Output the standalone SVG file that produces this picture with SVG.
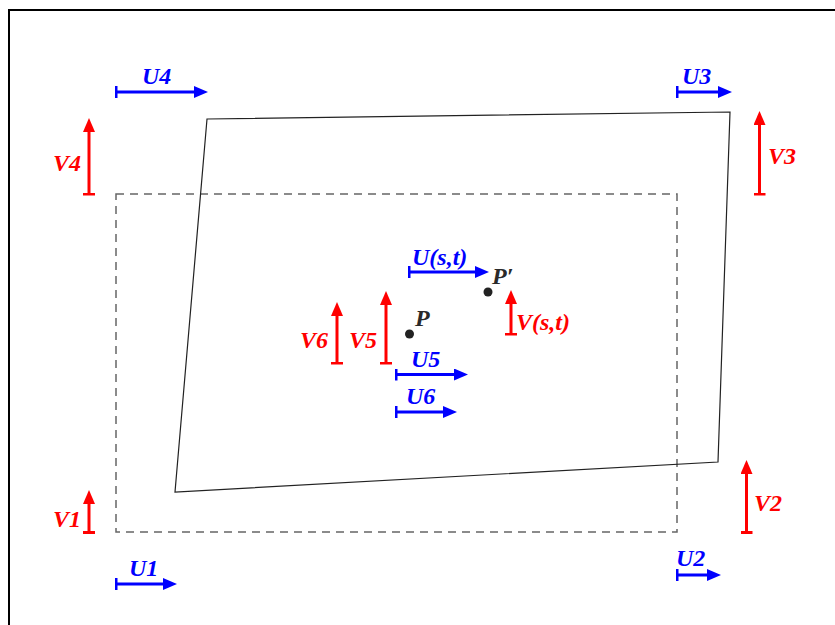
<svg xmlns="http://www.w3.org/2000/svg" width="835" height="625" viewBox="0 0 835 625">
<style>
.lb{font-family:"Liberation Serif","Times New Roman",serif;font-weight:bold;font-style:italic;font-size:24px}
.u{fill:#0000ff}
.v{fill:#ff0000}
.p{fill:#2a2a2a}
.ua{stroke:#0000ff;stroke-width:3;fill:none;marker-start:url(#tb);marker-end:url(#ab)}
.va{stroke:#ff0000;stroke-width:3;fill:none;marker-start:url(#tr);marker-end:url(#ar)}
</style>
<defs>
<marker id="ab" markerUnits="userSpaceOnUse" viewBox="0 0 14 12" refX="4" refY="6" markerWidth="14" markerHeight="12" orient="auto"><path d="M0,0 L14,6 L0,12 z" fill="#0000ff"/></marker>
<marker id="ar" markerUnits="userSpaceOnUse" viewBox="0 0 14 12" refX="4" refY="6" markerWidth="14" markerHeight="12" orient="auto"><path d="M0,0 L14,6 L0,12 z" fill="#ff0000"/></marker>
<marker id="tb" markerUnits="userSpaceOnUse" viewBox="0 0 3 12" refX="1.5" refY="6" markerWidth="3" markerHeight="12" orient="auto"><rect width="3" height="12" fill="#0000ff"/></marker>
<marker id="tr" markerUnits="userSpaceOnUse" viewBox="0 0 3 12" refX="1.5" refY="6" markerWidth="3" markerHeight="12" orient="auto"><rect width="3" height="12" fill="#ff0000"/></marker>
</defs>
<rect width="835" height="625" fill="#fff"/>
<rect x="9" y="10" width="840" height="640" fill="none" stroke="#000" stroke-width="2"/>
<g id="shapes">
<rect id="grid" x="116" y="194" width="561" height="338" fill="none" stroke="#666" stroke-width="1.5" stroke-dasharray="8,6"/>
<polygon id="quad" points="207,119 730,112 718,462 175,492" fill="none" stroke="#222" stroke-width="1.2"/>
</g>
<g id="connectors">
<path class="ua" d="M116,92 H198"/>
<path class="ua" d="M677,92 H722"/>
<path class="ua" d="M116,584 H167"/>
<path class="ua" d="M677,575 H711"/>
<path class="ua" d="M409,272 H479"/>
<path class="ua" d="M396,374.5 H458"/>
<path class="ua" d="M396,412 H447"/>
<path class="va" d="M89,194 V128"/>
<path class="va" d="M759.5,194 V121"/>
<path class="va" d="M89,532.5 V500"/>
<path class="va" d="M746.5,532.5 V470"/>
<path class="va" d="M337,363 V312"/>
<path class="va" d="M386,363 V301"/>
<path class="va" d="M511,334 V300"/>
</g>
<g id="points">
<circle cx="409.5" cy="334" r="4.5" fill="#222"/>
<circle cx="488" cy="292" r="4.5" fill="#222"/>
</g>
<g id="labels">
<text class="lb u" x="142" y="84">U4</text>
<text class="lb u" x="682" y="84">U3</text>
<text class="lb u" x="129" y="576">U1</text>
<text class="lb u" x="676" y="566">U2</text>
<text class="lb u" x="412" y="265">U(s,t)</text>
<text class="lb u" x="411" y="367">U5</text>
<text class="lb u" x="406" y="404">U6</text>
<text class="lb v" x="81" y="171" text-anchor="end">V4</text>
<text class="lb v" x="768" y="164">V3</text>
<text class="lb v" x="81" y="527" text-anchor="end">V1</text>
<text class="lb v" x="754" y="511">V2</text>
<text class="lb v" x="328" y="348" text-anchor="end">V6</text>
<text class="lb v" x="349" y="348">V5</text>
<text class="lb v" x="516" y="330">V(s,t)</text>
<text class="lb p" x="415" y="326">P</text>
<text class="lb p" x="492" y="284">P′</text>
</g>
</svg>
